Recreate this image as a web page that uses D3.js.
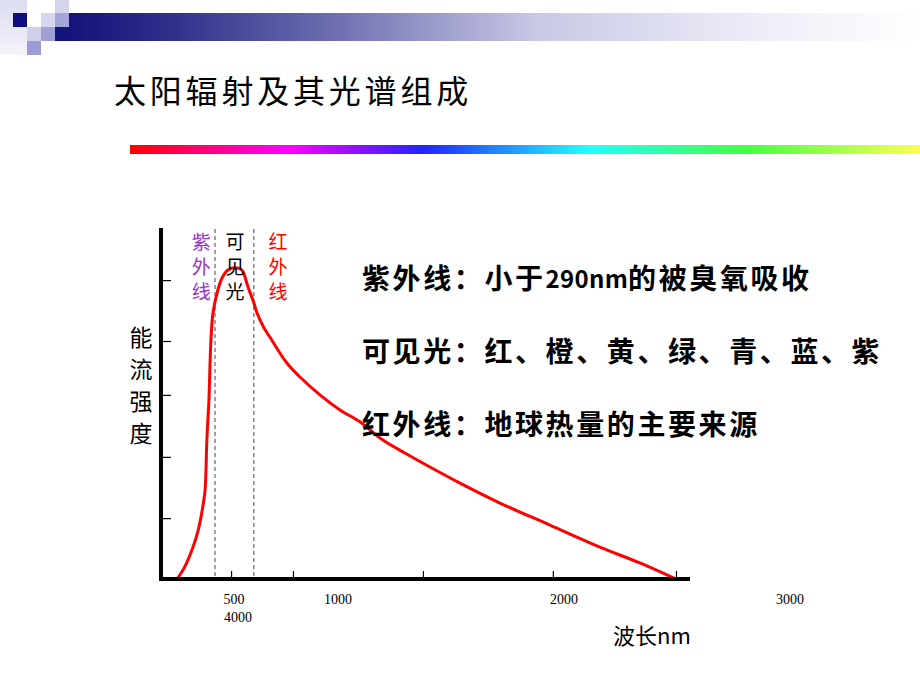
<!DOCTYPE html>
<html><head><meta charset="utf-8">
<script src="https://cdn.jsdelivr.net/npm/d3@7"></script>
<style>
body{margin:0;background:#fff;}
svg{display:block;}
</style></head>
<body>
<script>
// ---- data ----
const curveWavelength = [288,319,354,376,389,403,412,420,429,438,447,465,487,513,549,575,602,628,642,673,699,774,832,920,1009,1097,1199,1296,1407,1540,1717,1938,2159,2336,2496];
const curveIntensity  = [0,3.1,8.3,12.6,16,21.1,25.4,39.7,51.1,68.3,76,81.7,86,88.3,88.9,88.3,83.4,78.9,76,71.7,69.1,61.7,57.7,52.6,48.3,44.9,39.7,36,32,27.4,21.7,15.4,9.1,4.6,0];
const xTickValues = [527, 801, 1376, 1951, 2496];
const yTickValues = [17.4, 34.9, 52.6, 68, 85.4];
const xTickLabels = [500, 1000, 2000, 3000];
const xTickLabelExtra = "4000";
const bandBoundaries = [456, 628];
const bandLabels = ["紫外线", "可见光", "红外线"];
const bandLabelWavelength = [395, 545, 735];
const bandColors = ["#9933cc", "#000000", "#ff0000"];
const infoLines = ["紫外线：小于290nm的被臭氧吸收", "可见光：红、橙、黄、绿、青、蓝、紫", "红外线：地球热量的主要来源"];
const title = "太阳辐射及其光谱组成";
const yAxisTitle = "能流强度";
const xAxisTitle = "波长nm";
const rainbowStops = [["0",  "#ff0000"],["0.2","#ff00ff"],["0.37","#2222ff"],["0.58","#22ffff"],["0.78","#44ff44"],["1","#ffff55"]];

const W = 920, H = 690;
const svg = d3.select("body").append("svg").attr("width", W).attr("height", H);
const defs = svg.append("defs");

// decorative header
const hg = defs.append("linearGradient").attr("id","hdr").attr("x1","0").attr("x2","1");
[["0","#13137a"],["0.12","#30308c"],["0.3","#6a6aae"],["0.55","#c8c8e6"],["0.8","#ececf8"],["1","#ffffff"]]
  .forEach(s=>hg.append("stop").attr("offset",s[0]).attr("stop-color",s[1]));
const lg = defs.append("linearGradient").attr("id","fade").attr("x1","0").attr("x2","0").attr("y1","0").attr("y2","1");
lg.append("stop").attr("offset","0").attr("stop-color","#dcdcf2");
lg.append("stop").attr("offset","1").attr("stop-color","#f4f4fb");
svg.append("rect").attr("x",0).attr("y",0).attr("width",27).attr("height",55).attr("fill","url(#fade)");
svg.append("rect").attr("x",69).attr("y",13).attr("width",851).attr("height",28).attr("fill","url(#hdr)");
const sq = [[13,13,"#0d0d80"],[27,27,"#d0d0ec"],[27,41,"#9c9cd6"],[41,13,"#d6d6ee"],[41,27,"#a0a0d4"],[55,0,"#d4d4ee"],[55,13,"#a4a4d8"],[55,27,"#14147e"]];
sq.forEach(s=>svg.append("rect").attr("x",s[0]).attr("y",s[1]).attr("width",14).attr("height",14).attr("fill",s[2]));

// title
svg.append("text").attr("x",114).attr("y",89).attr("dominant-baseline","central")
  .attr("font-family","'Noto Sans CJK SC'").attr("font-size",32).attr("letter-spacing",3.8)
  .attr("fill","#000").text(title);

// rainbow bar
const rg = defs.append("linearGradient").attr("id","rain").attr("x1","0").attr("x2","1");
rainbowStops.forEach(s=>rg.append("stop").attr("offset",s[0]).attr("stop-color",s[1]));
svg.append("rect").attr("x",130).attr("y",145).attr("width",790).attr("height",9).attr("fill","url(#rain)");

// scales
const x = d3.scaleLinear().domain([217, 2558]).range([161, 690]);
const y = d3.scaleLinear().domain([0, 100]).range([579, 229]);

// dashed boundaries
svg.selectAll(".bnd").data(bandBoundaries).join("line")
  .attr("x1",d=>x(d)).attr("x2",d=>x(d)).attr("y1",y(100)).attr("y2",y(0))
  .attr("stroke","#444").attr("stroke-width",1).attr("stroke-dasharray","4,3");

// ticks
svg.append("g").attr("transform",`translate(${x(217)+2},0)`)
  .call(d3.axisRight(y).tickValues(yTickValues).tickSize(8).tickFormat(""))
  .call(g=>g.select(".domain").remove())
  .call(g=>g.selectAll("line").attr("stroke","#000").attr("stroke-width",1.2));
svg.append("g").attr("transform",`translate(0,${y(0)-2})`)
  .call(d3.axisTop(x).tickValues(xTickValues).tickSize(6).tickFormat(""))
  .call(g=>g.select(".domain").remove())
  .call(g=>g.selectAll("line").attr("stroke","#000").attr("stroke-width",1.2));

// curve
const line = d3.line().x(d=>x(d[0])).y(d=>y(d[1])).curve(d3.curveCatmullRom.alpha(0.5));
svg.append("path").datum(curveWavelength.map((w,i)=>[w,curveIntensity[i]]))
  .attr("d",line).attr("fill","none").attr("stroke","#ff0000").attr("stroke-width",3);

// axes lines
svg.append("line").attr("x1",x(217)).attr("x2",x(217)).attr("y1",y(100.3)).attr("y2",y(0)+2)
  .attr("stroke","#000").attr("stroke-width",4);
svg.append("line").attr("x1",x(217)-2).attr("x2",x(2558)).attr("y1",y(0)).attr("y2",y(0))
  .attr("stroke","#000").attr("stroke-width",4);

// band labels (vertical)
bandLabels.forEach((lab,i)=>{
  const t = svg.append("text").attr("font-family","'Noto Sans CJK SC'").attr("font-size",19)
    .attr("fill",bandColors[i]).attr("text-anchor","middle");
  Array.from(lab).forEach((ch,j)=>{
    t.append("tspan").attr("x",x(bandLabelWavelength[i])).attr("y",y(0)-339+j*25)
      .attr("dominant-baseline","central").text(ch);
  });
});

// x tick labels
svg.selectAll(".xl").data(xTickLabels).join("text")
  .attr("x",(d,i)=> x(d) + (i===0 ? 9 : 0)).attr("y",y(0)+20).attr("dominant-baseline","central")
  .attr("text-anchor","middle").attr("font-family","'Liberation Serif'").attr("font-size",14)
  .text(d=>d);
svg.append("text").attr("x",x(xTickLabels[0])+13).attr("y",y(0)+38).attr("dominant-baseline","central")
  .attr("text-anchor","middle").attr("font-family","'Liberation Serif'").attr("font-size",14)
  .text(xTickLabelExtra);

// axis titles
const yt = svg.append("text").attr("font-family","'Noto Sans CJK SC'").attr("font-size",23)
  .attr("text-anchor","middle").attr("fill","#000");
Array.from(yAxisTitle).forEach((ch,j)=>{
  yt.append("tspan").attr("x",141).attr("y",y(0)-243+j*32).attr("dominant-baseline","central").text(ch);
});
svg.append("text").attr("x",613).attr("y",y(0)+55).attr("dominant-baseline","central")
  .attr("font-family","'Noto Sans CJK SC'").attr("font-size",22).attr("fill","#000").text(xAxisTitle);

// info text
infoLines.forEach((str,i)=>{
  const t = svg.append("text").attr("x",362).attr("y",277+i*73).attr("dominant-baseline","central")
    .attr("font-family","'Noto Sans CJK SC'").attr("font-weight","bold").attr("font-size",28)
    .attr("letter-spacing",2.6).attr("fill","#000");
  str.split(/([0-9A-Za-z]+)/).filter(s=>s.length).forEach(seg=>{
    const ascii = /^[0-9A-Za-z]+$/.test(seg);
    const ts = t.append("tspan").text(seg);
    if (ascii) ts.attr("font-size",24).attr("letter-spacing",0.3);
  });
});
</script>
</body></html>
